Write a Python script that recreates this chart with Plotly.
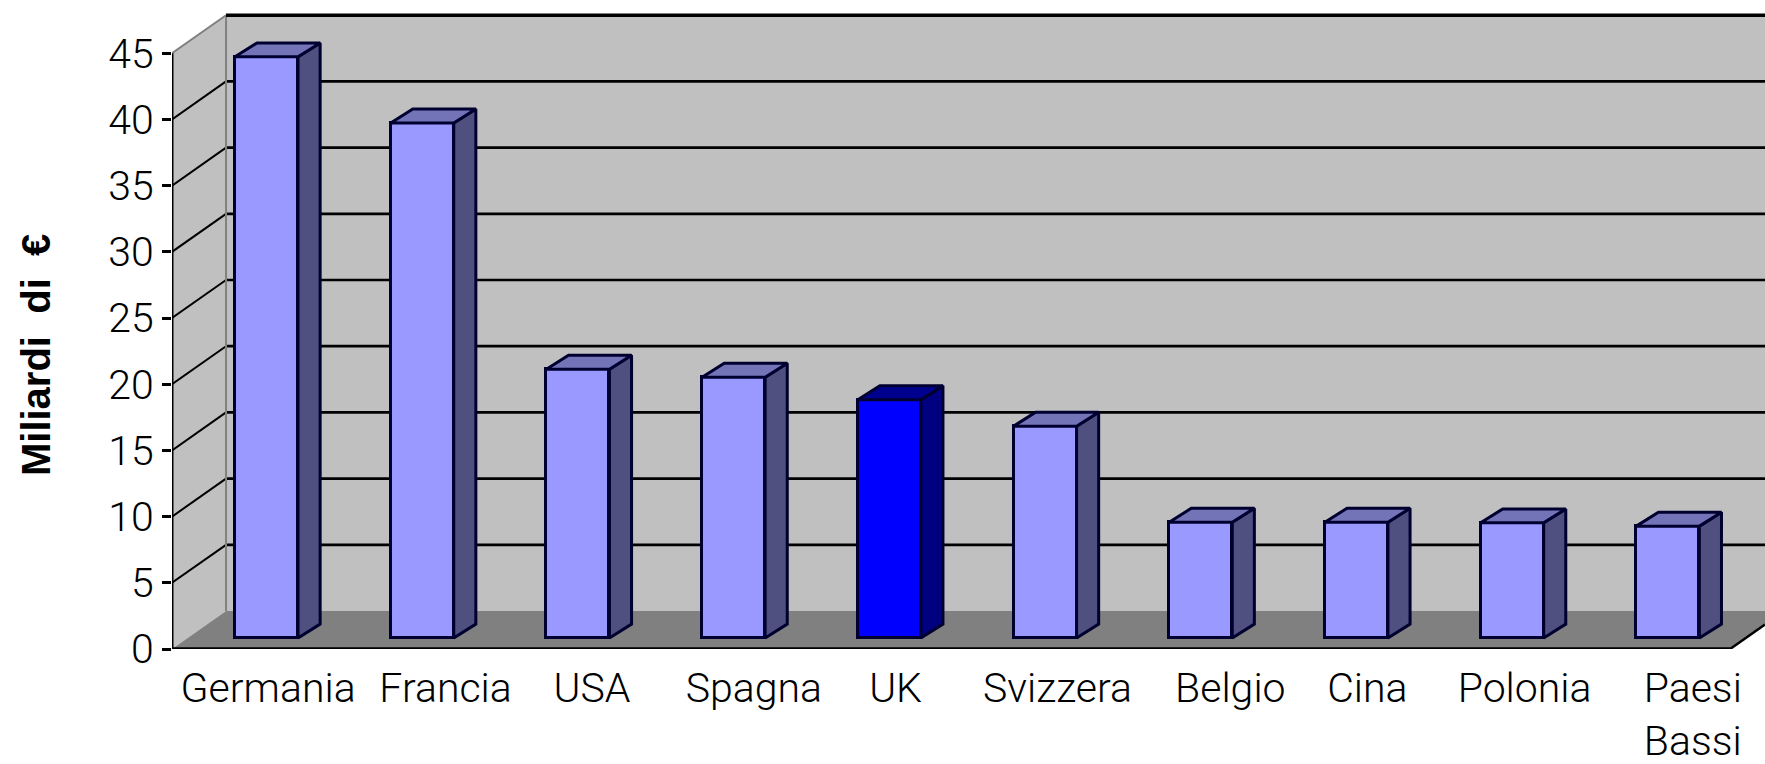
import plotly.graph_objects as go

# ---- data ----
categories = ["Germania", "Francia", "USA", "Spagna", "UK", "Svizzera",
              "Belgio", "Cina", "Polonia", "Paesi<br>Bassi"]
values = [43.9, 38.9, 20.3, 19.7, 18.0, 16.0, 8.75, 8.75, 8.7, 8.45]
highlight = "UK"
y_ticks = [0, 5, 10, 15, 20, 25, 30, 35, 40, 45]
label_positions = [0.01, 1.15, 2.09, 3.13, 4.04, 5.08, 6.19, 7.07, 8.08, 9.16]
y_title = "Miliardi  di  €"

# ---- style / projection ----
X_LEFT, X_RIGHT, X_FLOOR_END = -0.607, 9.624, 9.40
Y_TOP = 49.02
WALL_DX, WALL_DY = 0.347, 2.87      # depth of the chart box, in axis units
BAR_DX, BAR_DY = 0.142, 1.05        # depth of a bar, in axis units
BAR_W, BAR_BASE = 0.405, 0.83
FRONT, SIDE, TOP = "#9999FF", "#4F4F80", "#7373B8"
FRONT_HI, SIDE_HI, TOP_HI = "#0000FF", "#000080", "#00008F"
EDGE = "#000030"
FONT = "Roboto"


def poly(pts):
    return "M " + " L ".join(f"{x},{y}" for x, y in pts) + " Z"


shapes = []


def add_poly(pts, fill):
    shapes.append(dict(type="path", xref="x", yref="y", layer="below", path=poly(pts),
                       fillcolor=fill, line=dict(width=0)))


def add_line(x0, y0, x1, y1, color="black", width=2):
    shapes.append(dict(type="line", xref="x", yref="y", layer="below",
                       x0=x0, y0=y0, x1=x1, y1=y1, line=dict(color=color, width=width)))


wl = X_LEFT + WALL_DX
top_v = max(y_ticks)
# back wall, side wall, floor
add_poly([(wl, WALL_DY), (X_RIGHT, WALL_DY), (X_RIGHT, top_v + WALL_DY), (wl, top_v + WALL_DY)], "#C0C0C0")
add_poly([(X_LEFT, 0), (wl, WALL_DY), (wl, top_v + WALL_DY), (X_LEFT, top_v)], "#C0C0C0")
add_poly([(X_LEFT, 0), (wl, WALL_DY), (X_RIGHT, WALL_DY),
          (X_RIGHT, (X_RIGHT - X_FLOOR_END) / WALL_DX * WALL_DY), (X_FLOOR_END, 0)], "#808080")
# gridlines
for v in y_ticks[1:-1]:
    add_line(X_LEFT, v, wl, v + WALL_DY, "black", 2)
    add_line(wl, v + WALL_DY, X_RIGHT, v + WALL_DY, "black", 2.7)
add_line(wl, WALL_DY, wl, top_v + WALL_DY, "#808080", 2)
add_line(X_LEFT, top_v, wl, top_v + WALL_DY, "#808080", 2)
add_line(wl, top_v + WALL_DY, X_RIGHT, top_v + WALL_DY, "black", 3.5)
# axes
add_line(X_LEFT, 0, X_LEFT, top_v, "black", 3)
add_line(X_LEFT, 0, X_FLOOR_END, 0, "black", 3.5)
add_line(X_FLOOR_END, 0, X_RIGHT, (X_RIGHT - X_FLOOR_END) / WALL_DX * WALL_DY, "black", 2.5)
add_line(X_LEFT, 0, X_LEFT, -0.85, "black", 2.5)

xs = list(range(len(categories)))
is_hi = [c == highlight for c in categories]

fig = go.Figure()
fig.add_trace(go.Bar(
    x=xs, y=values, base=BAR_BASE, width=BAR_W,
    marker=dict(color=[FRONT_HI if h else FRONT for h in is_hi], line=dict(color=EDGE, width=3)),
    showlegend=False, hovertext=categories, hoverinfo="text+y",
))
for x, v, h in zip(xs, values, is_hi):
    l, r = x - BAR_W / 2, x + BAR_W / 2
    t = BAR_BASE + v
    fig.add_trace(go.Scatter(
        x=[r, r + BAR_DX, r + BAR_DX, r, r], y=[BAR_BASE, BAR_BASE + BAR_DY, t + BAR_DY, t, BAR_BASE],
        mode="lines", fill="toself", fillcolor=SIDE_HI if h else SIDE,
        line=dict(color=EDGE, width=3), hoverinfo="skip", showlegend=False))
    fig.add_trace(go.Scatter(
        x=[l, l + BAR_DX, r + BAR_DX, r, l], y=[t, t + BAR_DY, t + BAR_DY, t, t],
        mode="lines", fill="toself", fillcolor=TOP_HI if h else TOP,
        line=dict(color=EDGE, width=3), hoverinfo="skip", showlegend=False))

fig.update_layout(
    width=1765, height=764, autosize=False,
    margin=dict(l=172, r=0, t=0, b=115, pad=0),
    paper_bgcolor="white", plot_bgcolor="white",
    shapes=shapes, showlegend=False, bargap=0,
    font=dict(family=FONT, color="black"),
    xaxis=dict(range=[X_LEFT, X_RIGHT], showgrid=False, zeroline=False, showline=False, ticks="",
               tickmode="array", tickvals=label_positions, ticktext=categories,
               tickangle=0, automargin=False, ticklabelstandoff=11,
               tickfont=dict(family=FONT, size=41, weight=300, color="black")),
    yaxis=dict(range=[0, Y_TOP], showgrid=False, zeroline=False, showline=False,
               ticks="outside", ticklen=9, tickwidth=2.5, tickcolor="black",
               tickmode="array", tickvals=y_ticks, automargin=False,
               tickfont=dict(family=FONT, size=41, weight=300, color="black")),
    annotations=[dict(text=y_title, textangle=-90, showarrow=False,
                      xref="paper", yref="y", x=-0.0854, y=22.2,
                      xanchor="center", yanchor="middle",
                      font=dict(family="Liberation Sans", size=40, weight="bold", color="black"))],
)

fig.write_html("out.html", config={"displayModeBar": False},
               post_script="document.body.style.margin='0';document.documentElement.style.overflow='hidden';")
